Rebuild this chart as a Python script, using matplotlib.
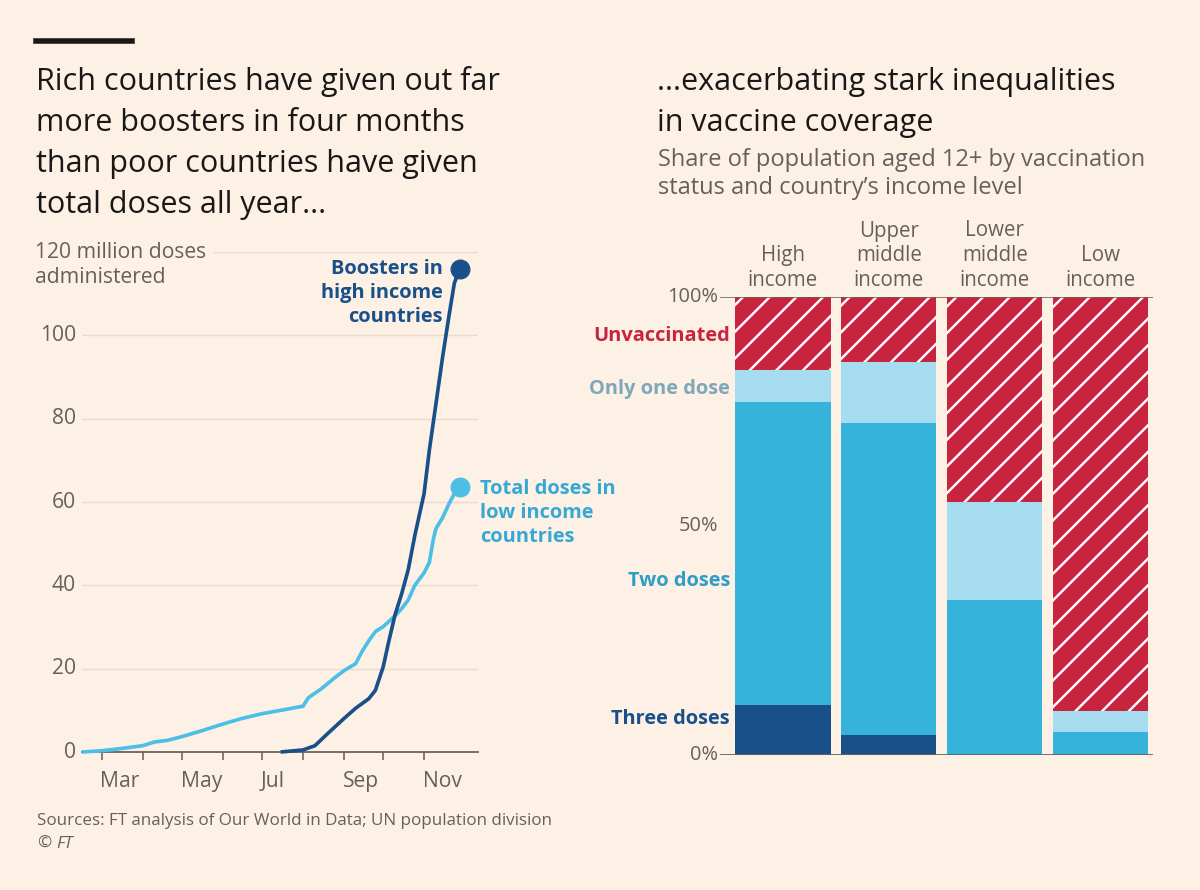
import numpy as np
import pandas as pd
import matplotlib
matplotlib.use('Agg')
import matplotlib.pyplot as plt
from matplotlib.transforms import blended_transform_factory

# ---- data: left chart (million doses, cumulative) ----
booster_dates = ['2021-07-15', '2021-08-01', '2021-08-10', '2021-08-20', '2021-09-01',
                 '2021-09-10', '2021-09-20', '2021-09-25', '2021-10-01', '2021-10-05',
                 '2021-10-10', '2021-10-15', '2021-10-20', '2021-10-25', '2021-11-01',
                 '2021-11-05', '2021-11-10', '2021-11-15', '2021-11-20', '2021-11-24',
                 '2021-11-28']
booster_vals = [0, 0.5, 1.5, 4.5, 8, 10.5, 12.8, 14.8, 20.5, 26.3, 33, 38, 43.8, 52,
                62, 72.4, 83.5, 94.6, 104.8, 112.5, 116]

low_dates = ['2021-02-14', '2021-03-01', '2021-03-15', '2021-04-01', '2021-04-10',
             '2021-04-20', '2021-05-01', '2021-05-15', '2021-06-01', '2021-06-15',
             '2021-07-01', '2021-07-15', '2021-08-01', '2021-08-05', '2021-08-15',
             '2021-08-25', '2021-09-01', '2021-09-10', '2021-09-15', '2021-09-20',
             '2021-09-25', '2021-10-01', '2021-10-10', '2021-10-15', '2021-10-20',
             '2021-10-25', '2021-11-01', '2021-11-05', '2021-11-08', '2021-11-10',
             '2021-11-15', '2021-11-20', '2021-11-24', '2021-11-28']
low_vals = [0, 0.3, 0.8, 1.5, 2.4, 2.8, 3.7, 5, 6.7, 8, 9.2, 10, 11, 13, 15.2, 17.8,
            19.5, 21.2, 24.2, 26.7, 28.9, 30.1, 32.7, 34.4, 36.5, 40, 43, 45.5, 51,
            53.6, 56.2, 59.6, 62, 63.5]

y_ticks = [0, 20, 40, 60, 80, 100]
month_ticks = ['2021-03-01', '2021-04-01', '2021-05-01', '2021-06-01', '2021-07-01',
               '2021-08-01', '2021-09-01', '2021-10-01', '2021-11-01']
month_labels = ['Mar', '', 'May', '', 'Jul', '', 'Sep', '', 'Nov']

# ---- data: right chart (% of population aged 12+) ----
groups = [['High', 'income'], ['Upper', 'middle', 'income'],
          ['Lower', 'middle', 'income'], ['Low', 'income']]
three_doses = [10.9, 4.4, 0, 0]
two_doses = [66.2, 68.1, 33.8, 5.1]
one_dose = [7.0, 13.4, 21.5, 4.4]

BG = '#fdf1e6'
GRAY = '#66605c'
DARK = '#1a5089'
LIGHT = '#4dbfe6'
RED = '#c9243f'
FONT = 'Open Sans'

W, H, DPI = 1200, 890, 80
plt.rcParams['font.family'] = FONT
plt.rcParams['hatch.linewidth'] = 2.2

fig = plt.figure(figsize=(W / DPI, H / DPI), dpi=DPI, facecolor=BG)


def ftext(x, y, s, **kw):
    return fig.text(x / W, 1 - y / H, s, **kw)


def rect(l, t, r, b):
    return [l / W, 1 - b / H, (r - l) / W, (b - t) / H]


# header bar + titles
fig.add_artist(plt.Line2D([36 / W, 132 / W], [1 - 41 / H, 1 - 41 / H], color='#1a1817', lw=5))
left_title = ['Rich countries have given out far', 'more boosters in four months',
              'than poor countries have given', 'total doses all year...']
for i, line in enumerate(left_title):
    ftext(36, 90 + 41 * i, line, fontsize=27.5, color='#1a1817', va='baseline')
right_title = ['...exacerbating stark inequalities', 'in vaccine coverage']
for i, line in enumerate(right_title):
    ftext(657, 90 + 41 * i, line, fontsize=27.5, color='#1a1817', va='baseline')
subtitle = ['Share of population aged 12+ by vaccination', 'status and country\u2019s income level']
for i, line in enumerate(subtitle):
    ftext(658, 166 + 28 * i, line, fontsize=21.3, color=GRAY, va='baseline')

ftext(37, 825, 'Sources: FT analysis of Our World in Data; UN population division',
      fontsize=15.3, color=GRAY, va='baseline')
ftext(37, 848, '\u00a9', fontsize=15.3, color=GRAY, va='baseline')
ftext(56, 848, 'FT', fontsize=15.3, color=GRAY, va='baseline', style='italic')

# ---- left chart ----
ax = fig.add_axes(rect(82, 252, 478, 752))
ax.set_facecolor(BG)
bd = pd.to_datetime(booster_dates)
ld = pd.to_datetime(low_dates)
ax.set_xlim(pd.Timestamp('2021-02-14'), pd.Timestamp('2021-12-12'))
ax.set_ylim(0, 120)

for v in y_ticks[1:]:
    ax.axhline(v, color='#e8dcd0', lw=1.3, zorder=1)
ax.axhline(120, xmin=(214 - 82) / 396, color='#e8dcd0', lw=1.3, zorder=1)

ax.plot(ld, low_vals, color=LIGHT, lw=3.3, zorder=3, clip_on=False, solid_capstyle='butt')
ax.plot(bd, booster_vals, color=DARK, lw=3.3, zorder=4, clip_on=False, solid_capstyle='butt')
ax.plot(ld[-1:], low_vals[-1:], 'o', color=LIGHT, ms=17, zorder=5, clip_on=False)
ax.plot(bd[-1:], booster_vals[-1:], 'o', color=DARK, ms=17, zorder=5, clip_on=False)

for s in ['top', 'right', 'left']:
    ax.spines[s].set_visible(False)
ax.spines['bottom'].set_color(GRAY)
ax.spines['bottom'].set_linewidth(1.6)
ax.spines['bottom'].set_zorder(2)
ax.set_yticks([])
ax.set_xticks(pd.to_datetime(month_ticks))
ax.set_xticklabels([])
ax.tick_params(axis='x', length=7, width=1.4, color=GRAY)

ytr = blended_transform_factory(fig.transFigure, ax.transData)
for v in y_ticks:
    ax.text(76 / W, v, str(v), transform=ytr, ha='right', va='center',
            fontsize=19, color=GRAY)
ftext(35, 252, '120 million doses', fontsize=19, color=GRAY, va='center')
ftext(35, 277, 'administered', fontsize=19, color=GRAY, va='center')

xtr = blended_transform_factory(ax.transData, fig.transFigure)
for d, lab in zip(pd.to_datetime(month_ticks), month_labels):
    if lab:
        ax.text(d - pd.Timedelta(days=1), 1 - 787 / H, lab, transform=xtr, ha='left',
                va='baseline', fontsize=19, color=GRAY)

for i, line in enumerate(['Boosters in', 'high income', 'countries']):
    ftext(443, 269 + 24 * i, line, fontsize=18, color=DARK, weight='bold',
          ha='right', va='center')
for i, line in enumerate(['Total doses in', 'low income', 'countries']):
    ftext(480, 489 + 24 * i, line, fontsize=18, color='#35a9d3', weight='bold',
          ha='left', va='center')

# ---- right chart ----
bx = fig.add_axes(rect(720, 297, 1153, 755))
bx.set_facecolor(BG)
bx.set_xlim(-0.594, 3.495)
bx.set_ylim(0, 100)
x = np.arange(len(groups))
three = np.array(three_doses)
two = np.array(two_doses)
one = np.array(one_dose)
unvac = 100 - three - two - one

bx.bar(x, three, width=0.9, color=DARK, lw=0, zorder=2)
bx.bar(x, two, width=0.9, bottom=three, color='#35b3db', lw=0, zorder=2)
bx.bar(x, one, width=0.9, bottom=three + two, color='#a6dcef', lw=0, zorder=2)
bx.bar(x, unvac, width=0.9, bottom=three + two + one, color=RED, edgecolor='white',
       hatch='/', lw=0, zorder=2)

bx.axhline(100, color=GRAY, lw=1.4, zorder=3)
bx.axhline(0, color=GRAY, lw=1.6, zorder=3)
for s in bx.spines.values():
    s.set_visible(False)
bx.set_xticks([])
bx.set_yticks([])

ptr = blended_transform_factory(fig.transFigure, bx.transData)
for v, lab in [(100, '100%'), (50, '50%'), (0, '0%')]:
    bx.text(718 / W, v, lab, transform=ptr, ha='right', va='center', fontsize=18,
            color=GRAY)

series_labels = [('Unvaccinated', 336, RED), ('Only one dose', 389, '#7ea8b8'),
                 ('Two doses', 581, '#2e9ec4'), ('Three doses', 719, DARK)]
for lab, yy, c in series_labels:
    ftext(730, yy, lab, fontsize=18, color=c, weight='bold', ha='right', va='center')

htr = blended_transform_factory(bx.transData, fig.transFigure)
for i, lines in enumerate(groups):
    n = len(lines)
    for j, line in enumerate(lines):
        yy = 280 - 24.5 * (n - 1 - j)
        bx.text(i, 1 - yy / H, line, transform=htr, ha='center', va='center',
                fontsize=18.5, color=GRAY)

fig.savefig('out.png', dpi=DPI, facecolor=BG)
